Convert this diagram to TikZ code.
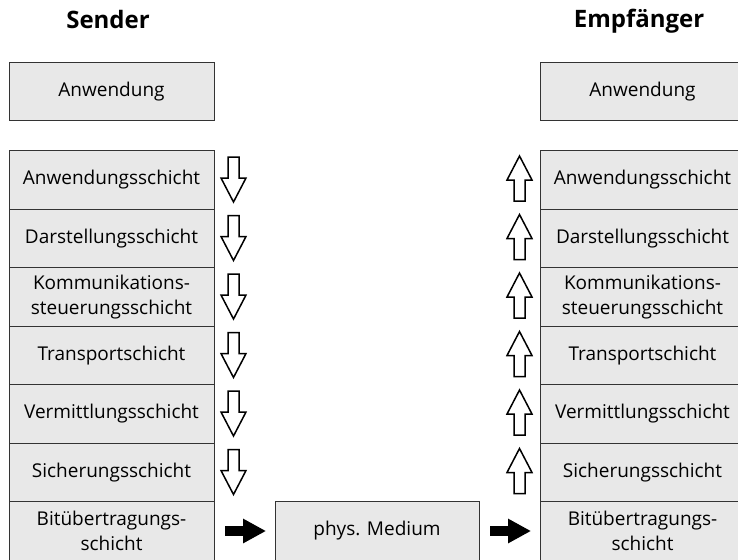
\documentclass[tikz,border=0pt]{standalone}
\usepackage{fontspec}
\setmainfont{Open Sans}
\usetikzlibrary{arrows.meta}

\begin{document}
\begin{tikzpicture}[x=1pt, y=-1pt,
	layer/.style={draw=black!80, line width=0.9pt, fill=black!9, minimum width=205pt, minimum height=58.5pt, inner sep=0pt, align=center, font=\fontsize{19}{25}\selectfont},
	title/.style={font=\fontsize{24}{28}\selectfont\bfseries},
	hollow/.style={draw=black, line width=1.5pt, fill=white, line join=miter},
	flow/.style={line width=10pt, -{Triangle[length=23pt, width=23pt]}, shorten <=11pt, shorten >=8.5pt}]

	\useasboundingbox (0,0) rectangle (738,559);

	% headings
	\node[title] (sender) at (108,20) {Sender};
	\node[title] (empf) at (639,21) {Empfänger};

	% application on top
	\node[layer] (sa) at (111.5,91.4) {Anwendung};
	\node[layer] (ea) at (642.5,91.4) {Anwendung};

	% the seven layers, sender and receiver
	\foreach \name [count=\i] in {Anwendungsschicht, Darstellungsschicht, {Kommunikations-\\steuerungsschicht}, Transportschicht, Vermittlungsschicht, Sicherungsschicht, {Bitübertragungs-\\schicht}} {
		\node[layer] (s\i) at (111.5,{180+(\i-1)*58.5}) {\name};
		\node[layer] (e\i) at (642.5,{180+(\i-1)*58.5}) {\name};
	}

	% hollow arrows: down on the sender side, up on the receiver side
	\foreach \i in {1,...,6} {
		\begin{scope}[shift={(233.5,{179.5+(\i-1)*58.5})}]
			\draw[hollow] (-5.5,-22.5) -- (5.5,-22.5) -- (5.5,-1.5) -- (12.5,-1.5) -- (0,22.5) -- (-12.5,-1.5) -- (-5.5,-1.5) -- cycle;
		\end{scope}
		\begin{scope}[shift={(519.5,{178.5+(\i-1)*58.5})}, yscale=-1]
			\draw[hollow] (-5.5,-22.5) -- (5.5,-22.5) -- (5.5,-1.5) -- (12.5,-1.5) -- (0,22.5) -- (-12.5,-1.5) -- (-5.5,-1.5) -- cycle;
		\end{scope}
	}

	% physical medium
	\node[layer, minimum width=204pt] (med) at (377,531) {phys. Medium};
	\draw[flow] (s7) -- (med);
	\draw[flow] (med) -- (e7);

\end{tikzpicture}
\end{document}
